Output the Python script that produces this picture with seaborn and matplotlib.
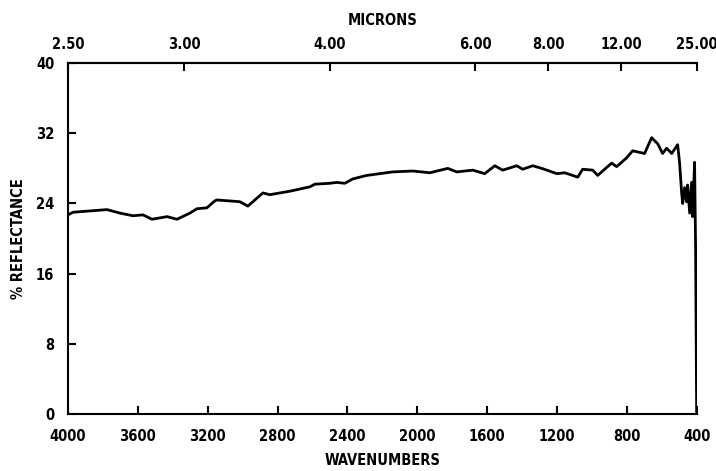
import numpy as np
import pandas as pd
import matplotlib
matplotlib.use('Agg')
import matplotlib.pyplot as plt
import seaborn as sns

# Reflectance spectrum (wavenumber in cm-1, % reflectance)
wavenumbers = [4000, 3971, 3777, 3702, 3628, 3571, 3519, 3433, 3376, 3302,
               3262, 3205, 3159, 3147, 3016, 2970, 2884, 2844, 2729, 2615,
               2586, 2501, 2461, 2415, 2369, 2289, 2140, 2026, 1928, 1825,
               1774, 1682, 1614, 1556, 1511, 1430, 1396, 1339, 1287, 1201,
               1156, 1081, 1053, 995, 967, 887, 858, 801, 767, 698,
               658, 623, 595, 572, 543, 509, 498, 486, 480, 469,
               458, 452, 440, 429, 423, 412, 406, 400]
reflectance = [22.7, 23.0, 23.3, 22.9, 22.6, 22.7, 22.2, 22.5, 22.2, 22.9,
               23.4, 23.5, 24.3, 24.4, 24.2, 23.7, 25.2, 25.0, 25.4, 25.9,
               26.2, 26.3, 26.4, 26.3, 26.8, 27.2, 27.6, 27.7, 27.5, 28.0,
               27.6, 27.8, 27.4, 28.3, 27.8, 28.3, 27.9, 28.3, 28.0, 27.4,
               27.5, 27.0, 27.9, 27.8, 27.2, 28.6, 28.2, 29.2, 30.0, 29.7,
               31.5, 30.8, 29.7, 30.3, 29.7, 30.7, 28.7, 25.2, 24.0, 25.8,
               24.2, 26.1, 22.9, 26.4, 22.5, 28.7, 18.7, 0.0]

bottom_ticks = [4000, 3600, 3200, 2800, 2400, 2000, 1600, 1200, 800, 400]
micron_ticks = [2.5, 3.0, 4.0, 6.0, 8.0, 12.0, 25.0]
y_ticks = [0, 8, 16, 24, 32, 40]

df = pd.DataFrame({'wavenumber': wavenumbers, 'reflectance': reflectance})

sns.set_style("ticks")
plt.rcParams['font.family'] = ['DejaVu Sans']
plt.rcParams['font.stretch'] = 'condensed'
plt.rcParams['font.weight'] = 'bold'
plt.rcParams['text.color'] = 'black'
plt.rcParams['axes.labelcolor'] = 'black'
plt.rcParams['xtick.color'] = 'black'
plt.rcParams['ytick.color'] = 'black'

fs = 10.5

fig = plt.figure(figsize=(7.16, 4.71), dpi=100)
ax = fig.add_axes([0.095, 0.121, 0.878, 0.745])

sns.lineplot(data=df, x='wavenumber', y='reflectance', sort=False,
             estimator=None, color='black', linewidth=2.0, ax=ax)

ax.set_xlim(4000, 400)
ax.set_ylim(0, 40)
ax.set_xticks(bottom_ticks)
ax.set_xticklabels([str(t) for t in bottom_ticks], fontsize=fs, fontweight='bold')
ax.set_yticks(y_ticks)
ax.set_yticklabels([str(t) for t in y_ticks], fontsize=fs, fontweight='bold')
ax.tick_params(direction='in', length=6, width=1.5, colors='black')
ax.tick_params(axis='x', pad=11)
ax.tick_params(axis='y', pad=10)

ax.set_xlabel('WAVENUMBERS', fontsize=fs, fontweight='bold', labelpad=6)
ax.set_ylabel('% REFLECTANCE', fontsize=fs, fontweight='bold', labelpad=7)

for side in ['left', 'bottom', 'top']:
    ax.spines[side].set_linewidth(1.5)
    ax.spines[side].set_color('black')
ax.spines['right'].set_visible(False)

# top axis in microns
sec = ax.secondary_xaxis('top', functions=(lambda w: 10000.0 / np.maximum(w, 1e-6),
                                           lambda m: 10000.0 / np.maximum(m, 1e-6)))
sec.set_xticks(micron_ticks)
sec.set_xticklabels([f'{m:.2f}' for m in micron_ticks], fontsize=fs, fontweight='bold')
sec.tick_params(direction='in', length=6, width=1.5, pad=8, colors='black')
sec.set_xlabel('MICRONS', fontsize=fs, fontweight='bold', labelpad=9)
sec.spines['top'].set_linewidth(1.5)

fig.savefig('out.png', dpi=100)
